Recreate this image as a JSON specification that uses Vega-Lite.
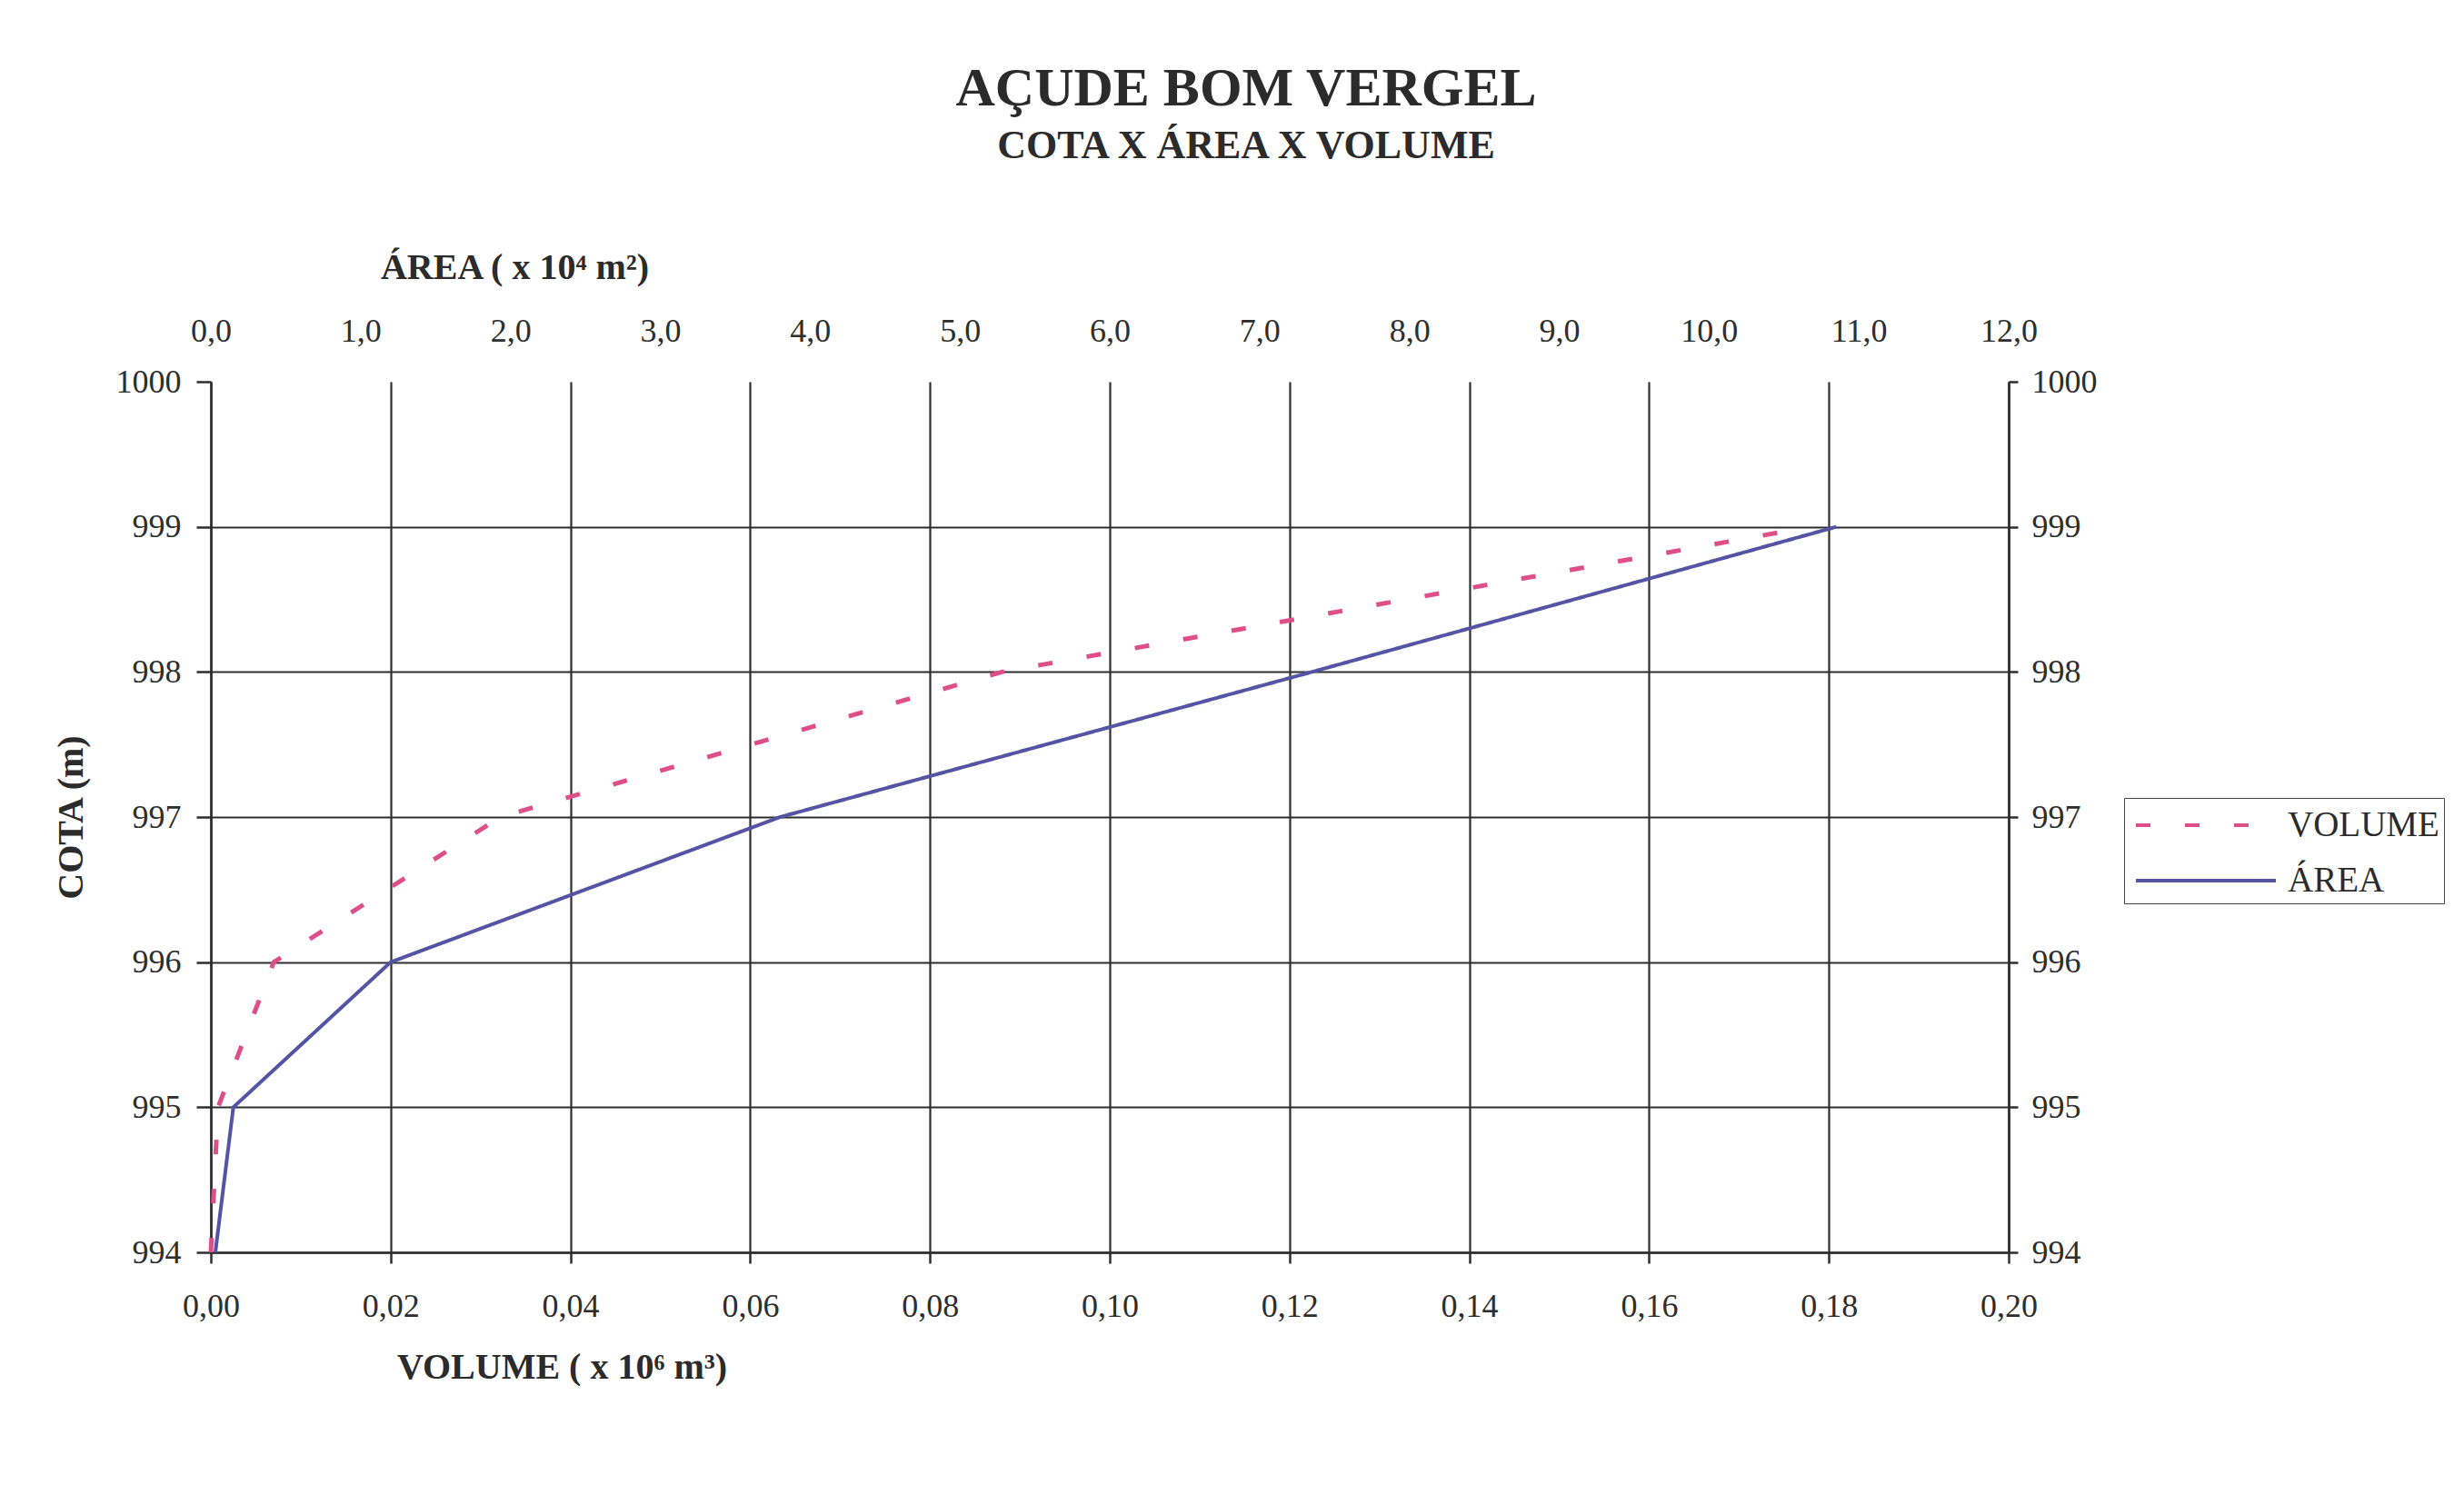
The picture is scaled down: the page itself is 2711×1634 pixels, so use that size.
{
  "$schema": "https://vega.github.io/schema/vega-lite/v6.json",
  "autosize": {"type": "none"},
  "padding": {"left": 232, "top": 420, "right": 501, "bottom": 256},
  "width": 1978,
  "height": 958,
  "background": "white",
  "title": {
    "text": "AÇUDE BOM VERGEL",
    "subtitle": "COTA X ÁREA X VOLUME",
    "anchor": "middle",
    "frame": "group",
    "dx": 150,
    "offset": 90,
    "font": "Liberation Serif",
    "fontSize": 60,
    "fontWeight": "bold",
    "color": "#2b2b2b",
    "subtitleFont": "Liberation Serif",
    "subtitleFontSize": 44,
    "subtitleFontWeight": "bold",
    "subtitleColor": "#2b2b2b",
    "subtitlePadding": 10
  },
  "config": {
    "view": {"stroke": null},
    "axis": {
      "labelFont": "Liberation Serif",
      "labelFontSize": 36,
      "labelColor": "#2e2e2e",
      "labelFlush": false,
      "titleFont": "Liberation Serif",
      "titleFontSize": 40,
      "titleFontWeight": "bold",
      "titleColor": "#2b2b2b",
      "domainColor": "#2e2e2e",
      "domainWidth": 2.5,
      "tickColor": "#2e2e2e",
      "tickWidth": 2.5,
      "gridColor": "#2e2e2e",
      "gridWidth": 2.2
    },
    "legend": {
      "labelFont": "Liberation Serif",
      "labelFontSize": 39,
      "labelColor": "#2b2b2b",
      "labelLimit": 0
    }
  },
  "data": {
    "values": [
      {"cota": 994, "serie": "VOLUME", "valor": 0.0},
      {"cota": 995, "serie": "VOLUME", "valor": 0.0008},
      {"cota": 996, "serie": "VOLUME", "valor": 0.007},
      {"cota": 997, "serie": "VOLUME", "valor": 0.0322},
      {"cota": 998, "serie": "VOLUME", "valor": 0.088},
      {"cota": 999, "serie": "VOLUME", "valor": 0.178},
      {"cota": 994, "serie": "ÁREA", "valor": 0.03},
      {"cota": 995, "serie": "ÁREA", "valor": 0.15},
      {"cota": 996, "serie": "ÁREA", "valor": 1.2},
      {"cota": 997, "serie": "ÁREA", "valor": 3.8},
      {"cota": 998, "serie": "ÁREA", "valor": 7.35},
      {"cota": 999, "serie": "ÁREA", "valor": 10.85}
    ]
  },
  "encoding": {
    "y": {
      "field": "cota",
      "type": "quantitative",
      "scale": {"domain": [994, 1000], "nice": false, "zero": false}
    },
    "color": {
      "field": "serie",
      "type": "nominal",
      "scale": {"domain": ["VOLUME", "ÁREA"], "range": ["#de4f8a", "#5454a4"]},
      "legend": {
        "title": null,
        "orient": "none",
        "legendX": 2105,
        "legendY": 458,
        "strokeColor": "#444444",
        "padding": 5,
        "symbolType": "M-0.74,0H5.96",
        "symbolSize": 2116,
        "symbolStrokeWidth": 4,
        "labelOffset": 125,
        "labelLimit": 0,
        "rowPadding": 16
      }
    },
    "strokeDash": {
      "field": "serie",
      "type": "nominal",
      "scale": {"domain": ["VOLUME", "ÁREA"], "range": [[16, 38], [1, 0]]},
      "legend": {
        "title": null,
        "orient": "none",
        "legendX": 2105,
        "legendY": 458,
        "strokeColor": "#444444",
        "padding": 5,
        "symbolType": "M-0.74,0H5.96",
        "symbolSize": 2116,
        "symbolStrokeWidth": 4,
        "labelOffset": 125,
        "labelLimit": 0,
        "rowPadding": 16
      }
    }
  },
  "layer": [
    {
      "transform": [{"filter": "datum.serie === 'VOLUME'"}],
      "mark": {"type": "line", "strokeWidth": 5, "strokeCap": "butt"},
      "encoding": {
        "x": {
          "field": "valor",
          "type": "quantitative",
          "scale": {"domain": [0, 0.2], "nice": false},
          "axis": {
            "orient": "bottom",
            "values": [0, 0.02, 0.04, 0.06, 0.08, 0.1, 0.12, 0.14, 0.16, 0.18, 0.2],
            "labelExpr": "replace(format(datum.value, '.2f'), '.', ',')",
            "grid": true,
            "domain": true,
            "tickSize": 12,
            "labelPadding": 30,
            "title": "VOLUME  ( x 10⁶ m³)",
            "titleX": 386,
            "titleY": 126,
            "titleAlign": "center",
            "titleBaseline": "middle"
          }
        },
        "y": {
          "field": "cota",
          "type": "quantitative",
          "axis": {
            "orient": "left",
            "values": [994, 995, 996, 997, 998, 999, 1000],
            "labelExpr": "format(datum.value, 'd')",
            "grid": true,
            "gridOpacity": {"condition": {"test": "datum.value == 1000", "value": 0}, "value": 1},
            "tickSize": 16,
            "labelPadding": 17,
            "title": "COTA (m)",
            "titleAngle": -90,
            "titleX": -154,
            "titleY": 479,
            "titleAlign": "center",
            "titleBaseline": "middle"
          }
        }
      }
    },
    {
      "transform": [{"filter": "datum.serie === 'ÁREA'"}],
      "mark": {"type": "line", "strokeWidth": 4},
      "encoding": {
        "x": {
          "field": "valor",
          "type": "quantitative",
          "scale": {"domain": [0, 12], "nice": false},
          "axis": {
            "orient": "top",
            "values": [0, 1, 2, 3, 4, 5, 6, 7, 8, 9, 10, 11, 12],
            "labelExpr": "replace(format(datum.value, '.1f'), '.', ',')",
            "grid": false,
            "domain": false,
            "ticks": false,
            "tickSize": 0,
            "labelPadding": 37,
            "title": "ÁREA ( x 10⁴ m²)",
            "titleX": 334,
            "titleY": -126,
            "titleAlign": "center",
            "titleBaseline": "middle"
          }
        },
        "y": {
          "field": "cota",
          "type": "quantitative",
          "axis": {
            "orient": "right",
            "values": [994, 995, 996, 997, 998, 999, 1000],
            "labelExpr": "format(datum.value, 'd')",
            "grid": false,
            "tickSize": 10,
            "labelPadding": 15,
            "title": null
          }
        }
      }
    }
  ],
  "resolve": {
    "scale": {"x": "independent"},
    "axis": {"x": "independent", "y": "independent"}
  }
}
